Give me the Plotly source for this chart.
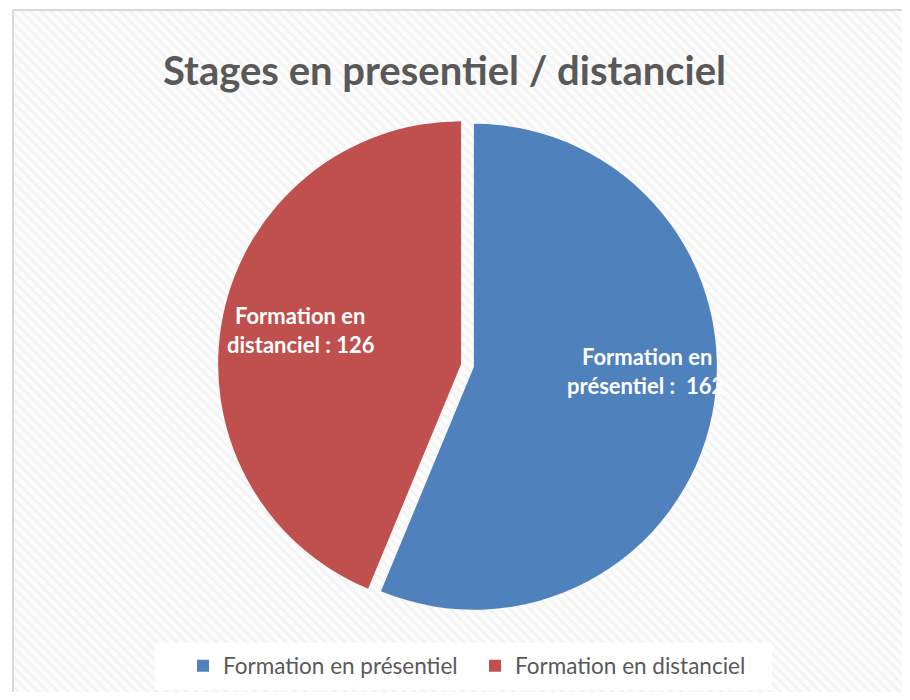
import plotly.graph_objects as go

labels = ["Formation en présentiel", "Formation en distanciel"]
values = [162, 126]
colors = ["#4F81BD", "#C0504D"]
label_line1 = ["Formation en", "Formation en"]
label_line2 = ["présentiel :  ", "distanciel : "]
title_text = "Stages en presentiel / distanciel"

OFF = 8  # page body margin
W, H = 910 - 2 * OFF, 700 - 2 * OFF


def px(x):
    return x - OFF


def py(y):
    return H - (y - OFF)


fig = go.Figure()

# hatched chart-area background with border
fig.add_trace(go.Scatter(
    x=[px(13), W + 10, W + 10, px(13), px(13)], y=[py(10), py(10), -10, -10, py(10)],
    mode="lines", fill="toself",
    line=dict(color="#d9d9d9", width=2),
    fillcolor="#fafafa",
    fillpattern=dict(shape="\\", fgcolor="#eaeaea", bgcolor="#fcfcfc", size=7, solidity=0.35),
    hoverinfo="skip", showlegend=False,
))

cx, cy, R = px(467.5), 365.5 - OFF, 249.5
fig.add_trace(go.Pie(
    labels=labels, values=values,
    marker=dict(colors=colors, line=dict(width=0)),
    sort=False, direction="clockwise", rotation=0,
    pull=[0.027, 0.027], textinfo="none",
    hoverinfo="label+value",
    domain=dict(x=[(cx - R) / W, (cx + R) / W], y=[1 - (cy + R) / H, 1 - (cy - R) / H]),
))

# legend backdrop
fig.add_shape(type="rect", xref="x", yref="y", x0=px(155), x1=px(772), y0=py(690), y1=py(643),
              fillcolor="rgba(255,255,255,0.85)", line=dict(width=0), layer="above")

annots = []
annots.append(dict(x=px(444), y=py(70), xref="x", yref="y", text=title_text, showarrow=False,
                   font=dict(family="Lato", size=40, color="#595959", weight="bold")))
label_pos = [((647, 356), (645, 385)), ((300, 315), (301, 344))]
for i in range(len(values)):
    (x1, y1), (x2, y2) = label_pos[i]
    annots.append(dict(x=px(x1), y=py(y1), xref="x", yref="y", text=label_line1[i], showarrow=False,
                       font=dict(family="Lato", size=22, color="white", weight="bold")))
    annots.append(dict(x=px(x2), y=py(y2), xref="x", yref="y", text=f"{label_line2[i]}{values[i]}",
                       showarrow=False,
                       font=dict(family="Lato", size=22, color="white", weight="bold")))

fig.update_layout(
    width=W, height=H,
    margin=dict(l=0, r=0, t=0, b=0),
    paper_bgcolor="white", plot_bgcolor="white",
    xaxis=dict(range=[0, W], visible=False, fixedrange=True),
    yaxis=dict(range=[0, H], visible=False, fixedrange=True),
    showlegend=True,
    legend=dict(orientation="h", x=px(183) / W, xanchor="left", y=py(666) / H, yanchor="middle",
                font=dict(family="Lato", size=22.5, color="#595959"), bgcolor="rgba(0,0,0,0)",
                entrywidth=247, traceorder="normal"),
    annotations=annots,
)

fig.write_html("out.html")
